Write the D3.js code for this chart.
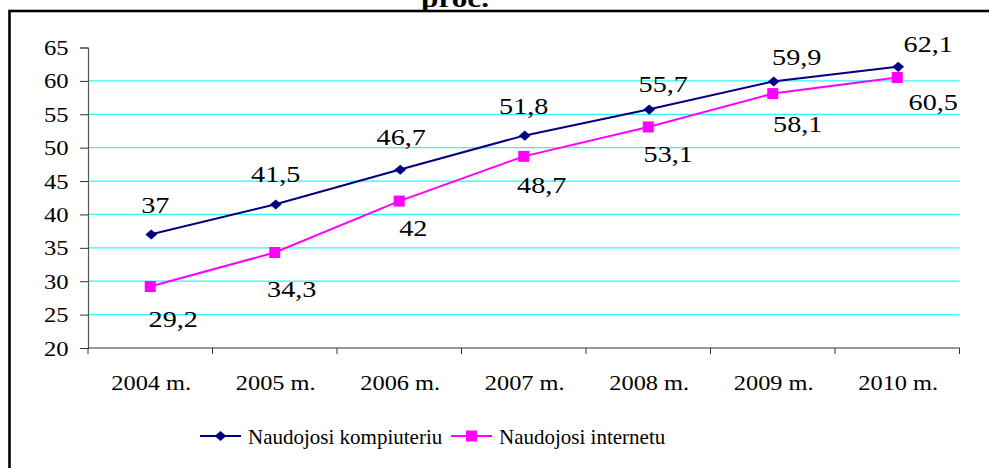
<!DOCTYPE html>
<html>
<head>
<meta charset="utf-8">
<script src="https://cdn.jsdelivr.net/npm/d3@7"></script>
<style>
  html, body { margin: 0; padding: 0; background: #fff; }
  svg text { font-family: "Liberation Serif", "Times New Roman", serif; fill: #000; }
</style>
</head>
<body>
<svg id="chart"></svg>
<script>
// Kompiuterio ir interneto naudojimas, proc.
const YEARS = ["2004 m.", "2005 m.", "2006 m.", "2007 m.", "2008 m.", "2009 m.", "2010 m."];
const COMPUTER = [37, 41.5, 46.7, 51.8, 55.7, 59.9, 62.1];
const INTERNET = [29.2, 34.3, 42, 48.7, 53.1, 58.1, 60.5];
const SERIES_NAMES = ["Naudojosi kompiuteriu", "Naudojosi internetu"];
const Y_TICKS = [20, 25, 30, 35, 40, 45, 50, 55, 60, 65];

// label nudges (px), the way the labels were dragged in the original
const COMPUTER_LABEL_DX = [5, 1, 2, 0, 15, 24, 31];
const COMPUTER_LABEL_DY = [-21, -22, -25, -22, -18, -17, -15];
const INTERNET_LABEL_DX = [23, 17, 14, 18, 20, 25, 36];
const INTERNET_LABEL_DY = [40, 44, 35, 37, 35, 38, 32];

const width = 989;
const height = 468;
// the source picture is stretched sideways, so its text is wider than the font
const STRETCH = 1.2;

const svg = d3.select("#chart")
  .attr("width", width)
  .attr("height", height);

// place a text at (x, y) with the sideways stretch
const at = (x, y) => `translate(${x},${y}) scale(${STRETCH},1)`;

// outer frame (right and bottom edges fall outside the picture)
svg.append("rect")
  .attr("x", 9.5).attr("y", 11)
  .attr("width", 1000).attr("height", 500)
  .attr("fill", "none")
  .attr("stroke", "#000")
  .attr("stroke-width", 2.6);

// tail of the title, mostly cut off above
svg.append("text")
  .attr("transform", at(455, 7))
  .attr("text-anchor", "middle")
  .attr("font-size", 26)
  .attr("font-weight", "bold")
  .text("proc.");

const x = d3.scaleBand()
  .domain(YEARS)
  .range([88, 959.5]);

const cx = d => x(d) + x.bandwidth() / 2;

const y = d3.scaleLinear()
  .domain([20, 65])
  .range([348, 47.5]);

// gridlines
svg.append("g")
  .selectAll("line")
  .data(Y_TICKS.filter(t => t > 20 && t < 65))
  .join("line")
  .attr("x1", 88).attr("x2", 959.5)
  .attr("y1", d => y(d)).attr("y2", d => y(d))
  .attr("stroke", "#33f5f5")
  .attr("stroke-width", 1.2);

// y axis (labels drawn separately so they can be stretched)
const yAxis = svg.append("g")
  .attr("transform", "translate(88,0)")
  .call(d3.axisLeft(y).tickValues(Y_TICKS).tickSize(8).tickFormat(""));
yAxis.select(".domain").attr("stroke", "#555").attr("stroke-width", 1.2);
yAxis.selectAll(".tick line").attr("stroke", "#333");

svg.append("g")
  .selectAll("text")
  .data(Y_TICKS)
  .join("text")
  .attr("transform", d => at(68.5, y(d) + 7.5))
  .attr("text-anchor", "end")
  .attr("font-size", 20.5)
  .text(d3.format("d"));

// x axis: ticks on category boundaries
const xAxis = svg.append("g")
  .attr("transform", `translate(0,${y(20)})`);
xAxis.append("line")
  .attr("x1", 88).attr("x2", 959.5)
  .attr("stroke", "#333").attr("stroke-width", 1.2);
xAxis.selectAll("line.tk")
  .data(YEARS.concat(["end"]))
  .join("line")
  .attr("class", "tk")
  .attr("x1", (d, i) => i < YEARS.length ? x(d) : 959.5)
  .attr("x2", (d, i) => i < YEARS.length ? x(d) : 959.5)
  .attr("y1", 0).attr("y2", 6)
  .attr("stroke", "#333");
xAxis.selectAll("text")
  .data(YEARS)
  .join("text")
  .attr("transform", d => `translate(${cx(d) + 1},41.5) scale(1.16,1)`)
  .attr("text-anchor", "middle")
  .attr("font-size", 21)
  .text(d => d);

const line = d3.line()
  .x((d, i) => cx(YEARS[i]))
  .y(d => y(d));

const diamond = d3.symbol().type(d3.symbolDiamond2).size(72);

// internet series
svg.append("path")
  .datum(INTERNET)
  .attr("d", line)
  .attr("fill", "none")
  .attr("stroke", "#ff00ff")
  .attr("stroke-width", 2);
svg.append("g")
  .selectAll("rect")
  .data(INTERNET)
  .join("rect")
  .attr("x", (d, i) => cx(YEARS[i]) - 5.5)
  .attr("y", d => y(d) - 5.5)
  .attr("width", 11).attr("height", 11)
  .attr("fill", "#ff00ff");

// computer series
svg.append("path")
  .datum(COMPUTER)
  .attr("d", line)
  .attr("fill", "none")
  .attr("stroke", "#000080")
  .attr("stroke-width", 2);
svg.append("g")
  .selectAll("path")
  .data(COMPUTER)
  .join("path")
  .attr("d", diamond)
  .attr("transform", (d, i) => `translate(${cx(YEARS[i]) + 1},${y(d)}) scale(1.1,0.95)`)
  .attr("fill", "#000080");

const fmt = v => String(v).replace(".", ",");

svg.append("g")
  .selectAll("text")
  .data(COMPUTER)
  .join("text")
  .attr("transform", (d, i) => at(cx(YEARS[i]) + COMPUTER_LABEL_DX[i], y(d) + COMPUTER_LABEL_DY[i]))
  .attr("text-anchor", "middle")
  .attr("font-size", 23.5)
  .text(fmt);

svg.append("g")
  .selectAll("text")
  .data(INTERNET)
  .join("text")
  .attr("transform", (d, i) => at(cx(YEARS[i]) + INTERNET_LABEL_DX[i], y(d) + INTERNET_LABEL_DY[i]))
  .attr("text-anchor", "middle")
  .attr("font-size", 23.5)
  .text(fmt);

// legend
const legend = svg.append("g").attr("transform", "translate(200,436)");
const legendItems = [
  { name: SERIES_NAMES[0], color: "#000080", marker: "diamond", x: 0 },
  { name: SERIES_NAMES[1], color: "#ff00ff", marker: "square", x: 251 },
];
legendItems.forEach(item => {
  const g = legend.append("g").attr("transform", `translate(${item.x},0)`);
  g.append("line")
    .attr("x1", 0).attr("x2", 41)
    .attr("stroke", item.color).attr("stroke-width", 2);
  if (item.marker === "diamond") {
    g.append("path")
      .attr("d", diamond)
      .attr("transform", "translate(20.5,0) scale(1.1,0.95)")
      .attr("fill", item.color);
  } else {
    g.append("rect")
      .attr("x", 15).attr("y", -5.5)
      .attr("width", 11).attr("height", 11)
      .attr("fill", item.color);
  }
  g.append("text")
    .attr("x", 48).attr("y", 7.5)
    .attr("font-size", 21)
    .text(item.name);
});
</script>
</body>
</html>
